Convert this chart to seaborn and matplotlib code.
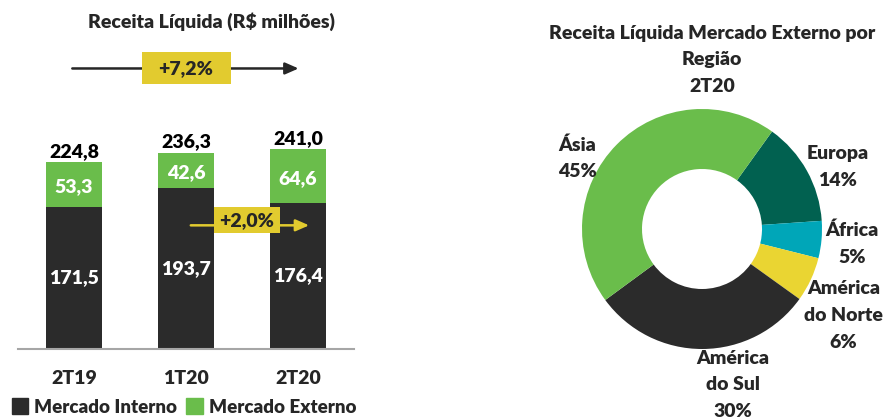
import matplotlib
matplotlib.use("Agg")
import matplotlib.pyplot as plt
from matplotlib.patches import Patch, Rectangle
import seaborn as sns

# dados
periodos = ["2T19", "1T20", "2T20"]
interno = [171.5, 193.7, 176.4]
externo = [53.3, 42.6, 64.6]
total_labels = ["224,8", "236,3", "241,0"]
interno_labels = ["171,5", "193,7", "176,4"]
externo_labels = ["53,3", "42,6", "64,6"]

regioes = ["Europa", "África", "América\ndo Norte", "América\ndo Sul", "Ásia"]
participacao = [14, 5, 6, 30, 45]

COR_INTERNO = "#2b2b2b"
COR_EXTERNO = "#6abd4b"
AMARELO = "#e2cb2f"
cores_regioes = ["#016150", "#00a6b8", "#ead532", "#2b2b2b", "#6abd4b"]

PESO = "heavy"

sns.set_style("white")
plt.rcParams["font.family"] = ["Lato", "DejaVu Sans"]
plt.rcParams["font.weight"] = PESO

fig = plt.figure(figsize=(8.86, 4.19), dpi=100)
W, H = 886, 419

# ---- barras empilhadas ----
ax = fig.add_axes([18 / W, 70 / H, 336 / W, 349 / H])
totais = [i + e for i, e in zip(interno, externo)]
sns.barplot(x=periodos, y=totais, color=COR_EXTERNO, width=0.5, saturation=1,
            linewidth=0, ax=ax)
sns.barplot(x=periodos, y=interno, color=COR_INTERNO, width=0.5, saturation=1,
            linewidth=0, ax=ax)
ax.set_xlim(-0.5, 2.5)
ax.set_ylim(0, 420.5)
ax.set_yticks([])
ax.set_ylabel("")
for s in ["top", "right", "left"]:
    ax.spines[s].set_visible(False)
ax.spines["bottom"].set_color("#a6a6a6")
ax.spines["bottom"].set_linewidth(1.5)
ax.tick_params(axis="x", length=0, pad=15, labelsize=14)
for lab in ax.get_xticklabels():
    lab.set_fontweight(PESO)

fs = 14
for k in range(3):
    ax.text(k, totais[k] + 13, total_labels[k], ha="center", va="center",
            fontsize=fs, fontweight=PESO, color="black")
    ax.text(k, interno[k] / 2, interno_labels[k], ha="center", va="center",
            fontsize=fs, fontweight=PESO, color="white")
    ax.text(k, interno[k] + externo[k] / 2 - 3, externo_labels[k], ha="center",
            va="center", fontsize=fs, fontweight=PESO, color="white")

# seta +7,2%
ax.annotate("", xy=(2.03, 338), xytext=(-0.04, 338),
            arrowprops=dict(arrowstyle="-|>,head_length=0.8,head_width=0.35",
                            color="#262626", lw=1.8), annotation_clip=False)
ax.add_patch(Rectangle((1.0 - 0.397, 338 - 19.3), 0.795, 38.6, facecolor=AMARELO,
                       edgecolor="none", clip_on=False, zorder=3))
ax.text(1.0, 338, "+7,2%", ha="center", va="center", fontsize=fs,
        fontweight=PESO, zorder=4)

# seta +2,0%
ax.annotate("", xy=(2.124, 149), xytext=(1.018, 149),
            arrowprops=dict(arrowstyle="-|>,head_length=0.8,head_width=0.35",
                            color=AMARELO, lw=1.8), zorder=3)
ax.add_patch(Rectangle((1.545 - 0.295, 155 - 15.7), 0.59, 31.3, facecolor=AMARELO,
                       edgecolor="none", zorder=4))
ax.text(1.545, 155, "+2,0%", ha="center", va="center", fontsize=fs,
        fontweight=PESO, zorder=5)

fig.text(212 / W, 1 - 22 / H, "Receita Líquida (R$ milhões)", ha="center",
         va="center", fontsize=fs, fontweight=PESO)

handles = [Patch(color=COR_INTERNO, label="Mercado Interno"),
           Patch(color=COR_EXTERNO, label="Mercado Externo")]
fig.legend(handles=handles, loc="center left", bbox_to_anchor=(4 / W, 1 - 407 / H),
           ncol=2, frameon=False, handlelength=0.9, handleheight=0.9,
           handletextpad=0.3, columnspacing=0.5, borderaxespad=0,
           prop={"size": 13.5, "weight": PESO})

# ---- rosca ----
axp = fig.add_axes([552 / W, 40 / H, 300 / W, 300 / H])
axp.pie(participacao, colors=cores_regioes, startangle=54.3, counterclock=False,
        radius=1, wedgeprops=dict(width=0.5, linewidth=0))
axp.set_xlim(-1.25, 1.25)
axp.set_ylim(-1.25, 1.25)
axp.set_aspect("equal")
axp.axis("off")

rotulos = ["Europa\n14%", "África\n5%", "América\ndo Norte\n6%",
           "América\ndo Sul\n30%", "Ásia\n45%"]
pos = [(1.13, 0.52), (1.25, -0.12), (1.18, -0.72), (0.26, -1.30), (-1.04, 0.59)]
for txt, (x, y) in zip(rotulos, pos):
    axp.text(x, y, txt, ha="center", va="center", fontsize=fs,
             fontweight=PESO, linespacing=1.7)

fig.text(712 / W, 1 - 60 / H, "Receita Líquida Mercado Externo por\nRegião\n2T20",
         ha="center", va="center", fontsize=fs, fontweight=PESO, linespacing=1.7)

fig.savefig("out.png", dpi=100)
